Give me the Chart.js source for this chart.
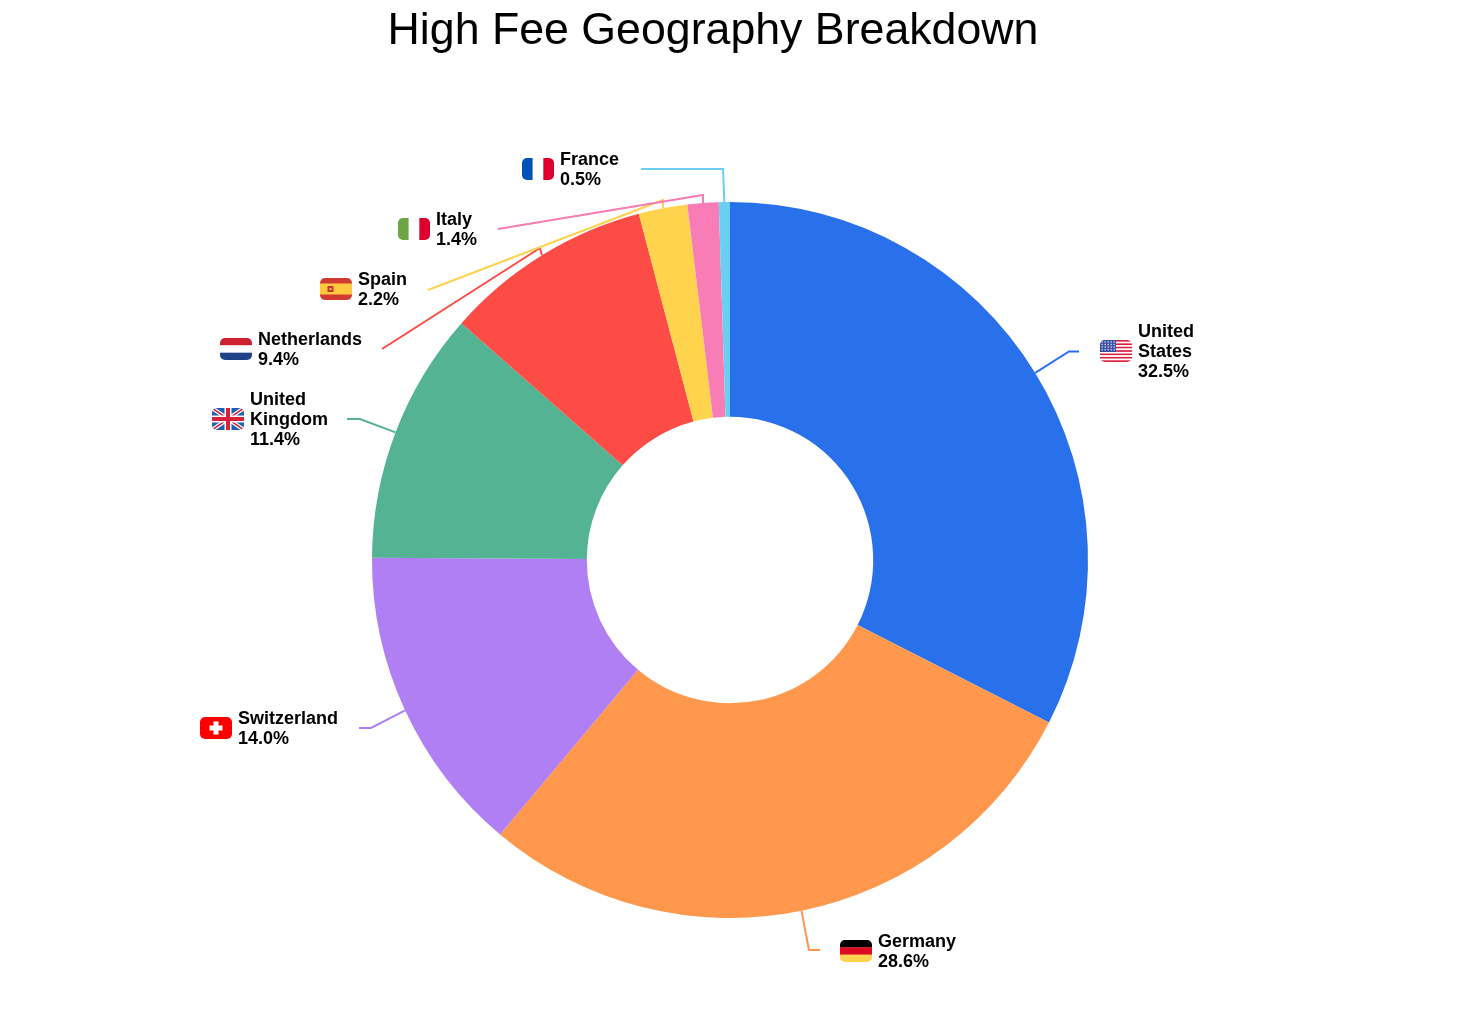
<!DOCTYPE html>
<html>
<head>
<meta charset="utf-8">
<title>High Fee Geography Breakdown</title>
<script src="https://cdn.jsdelivr.net/npm/chart.js@4/dist/chart.umd.min.js"></script>
<style>
  html, body { margin: 0; padding: 0; background: #fff; }
  canvas { display: block; }
</style>
</head>
<body>
<canvas id="fee-chart" width="1483" height="1026"></canvas>
<script>
const countries = ["United States", "Germany", "Switzerland", "United Kingdom", "Netherlands", "Spain", "Italy", "France"];
const shares = [32.5, 28.6, 14.0, 11.4, 9.4, 2.2, 1.4, 0.5];
const sliceColors = ["#2971EB", "#FF974D", "#B07FF3", "#53B392", "#FC4C45", "#FFD34E", "#F87CB6", "#6BCFF2"];

// Label wrapping per country, same order as above
const labelLines = [["United", "States"], ["Germany"], ["Switzerland"], ["United", "Kingdom"], ["Netherlands"], ["Spain"], ["Italy"], ["France"]];
// Flag box top-left corner per country
const flagX = [1100, 840, 200, 212, 220, 320, 398, 522];
const flagY = [340, 940, 717, 408, 338, 278, 218, 158];
// Leader line: elbow point, then end point
const elbows = [[1069, 351.5], [809, 950], [371, 728], [360, 419], [540, 248], [663, 200], [703, 195], [723, 169]];
const leaderEnds = [[1079, 351.5], [820, 950], [359, 728], [347, 419], [382, 349], [428, 290], [498, 229], [641, 169]];

const FLAG_W = 32;
const FLAG_H = 22;

function hStripes(ctx, x, y, colors) {
  const h = FLAG_H / colors.length;
  colors.forEach((c, i) => {
    ctx.fillStyle = c;
    ctx.fillRect(x, y + i * h, FLAG_W, h + 0.2);
  });
}

function vStripes(ctx, x, y, colors) {
  const w = FLAG_W / colors.length;
  colors.forEach((c, i) => {
    ctx.fillStyle = c;
    ctx.fillRect(x + i * w, y, w + 0.2, FLAG_H);
  });
}

const flagPainters = {
  "United States": (ctx, x, y) => {
    const stripes = [];
    for (let i = 0; i < 13; i++) stripes.push(i % 2 ? "#FFFFFF" : "#D8213B");
    hStripes(ctx, x, y, stripes);
    ctx.fillStyle = "#3A4FA3";
    ctx.fillRect(x, y, 16, 12);
    ctx.fillStyle = "#C9D2EE";
    for (let r = 0; r < 4; r++) {
      for (let c = 0; c < 5; c++) {
        ctx.fillRect(x + 1.5 + c * 3, y + 1.2 + r * 2.6, 1.4, 1.4);
      }
    }
  },
  "Germany": (ctx, x, y) => hStripes(ctx, x, y, ["#000000", "#DD0A21", "#FFD34E"]),
  "Switzerland": (ctx, x, y) => {
    ctx.fillStyle = "#FF0000";
    ctx.fillRect(x, y, FLAG_W, FLAG_H);
    ctx.fillStyle = "#FFFFFF";
    ctx.fillRect(x + 13.5, y + 4.5, 5, 13);
    ctx.fillRect(x + 9.5, y + 8.5, 13, 5);
  },
  "United Kingdom": (ctx, x, y) => {
    ctx.fillStyle = "#1F5FB4";
    ctx.fillRect(x, y, FLAG_W, FLAG_H);
    const diag = (w, color) => {
      ctx.strokeStyle = color;
      ctx.lineWidth = w;
      ctx.beginPath();
      ctx.moveTo(x, y);
      ctx.lineTo(x + FLAG_W, y + FLAG_H);
      ctx.moveTo(x + FLAG_W, y);
      ctx.lineTo(x, y + FLAG_H);
      ctx.stroke();
    };
    diag(4, "#FFFFFF");
    diag(1.5, "#D8213B");
    ctx.fillStyle = "#FFFFFF";
    ctx.fillRect(x + 12.5, y, 7, FLAG_H);
    ctx.fillRect(x, y + 7.5, FLAG_W, 7);
    ctx.fillStyle = "#D8213B";
    ctx.fillRect(x + 14, y, 4, FLAG_H);
    ctx.fillRect(x, y + 9, FLAG_W, 4);
  },
  "Netherlands": (ctx, x, y) => hStripes(ctx, x, y, ["#CD2230", "#FFFFFF", "#1F4288"]),
  "Spain": (ctx, x, y) => {
    ctx.fillStyle = "#D03A33";
    ctx.fillRect(x, y, FLAG_W, FLAG_H);
    ctx.fillStyle = "#FFC93F";
    ctx.fillRect(x, y + 5.5, FLAG_W, 11);
    ctx.fillStyle = "#C8372E";
    ctx.fillRect(x + 7.5, y + 8, 6, 6);
    ctx.fillStyle = "#FFC93F";
    ctx.fillRect(x + 9.5, y + 10, 2, 2);
  },
  "Italy": (ctx, x, y) => vStripes(ctx, x, y, ["#6DA544", "#FFFFFF", "#DD002E"]),
  "France": (ctx, x, y) => vStripes(ctx, x, y, ["#0052B4", "#FFFFFF", "#DD002E"]),
};

// Draws the title, leader lines, flags and labels on top of the doughnut
const calloutPlugin = {
  id: "callouts",
  afterDatasetsDraw(chart) {
    const ctx = chart.ctx;
    const arcs = chart.getDatasetMeta(0).data;

    ctx.save();
    ctx.fillStyle = "#000";
    ctx.font = '44.7px "Liberation Sans"';
    ctx.textAlign = "center";
    ctx.textBaseline = "middle";
    ctx.fillText("High Fee Geography Breakdown", 713, 31.5);

    arcs.forEach((arc, i) => {
      const { x, y, startAngle, endAngle, outerRadius } = arc.getProps(["x", "y", "startAngle", "endAngle", "outerRadius"], true);
      const mid = (startAngle + endAngle) / 2;

      // Leader line starts on the slice's outer edge
      ctx.strokeStyle = sliceColors[i];
      ctx.lineWidth = 2;
      ctx.lineJoin = "miter";
      ctx.beginPath();
      ctx.moveTo(x + Math.cos(mid) * outerRadius, y + Math.sin(mid) * outerRadius);
      ctx.lineTo(elbows[i][0], elbows[i][1]);
      ctx.lineTo(leaderEnds[i][0], leaderEnds[i][1]);
      ctx.stroke();

      // Flag
      const fx = flagX[i];
      const fy = flagY[i];
      ctx.save();
      ctx.beginPath();
      ctx.roundRect(fx, fy, FLAG_W, FLAG_H, 5);
      ctx.clip();
      flagPainters[countries[i]](ctx, fx, fy);
      ctx.restore();

      // Label text, centered on the flag
      const lines = labelLines[i].concat(`${shares[i].toFixed(1)}%`);
      const lineHeight = 20;
      const firstY = fy + FLAG_H / 2 - ((lines.length - 1) * lineHeight) / 2 + 1;
      ctx.fillStyle = "#000";
      ctx.font = 'bold 18px "Liberation Sans"';
      ctx.textAlign = "left";
      ctx.textBaseline = "middle";
      lines.forEach((line, n) => ctx.fillText(line, fx + FLAG_W + 6, firstY + n * lineHeight));
    });
    ctx.restore();
  },
};

new Chart(document.getElementById("fee-chart").getContext("2d"), {
  type: "doughnut",
  data: {
    labels: countries,
    datasets: [
      {
        data: shares,
        backgroundColor: sliceColors,
        borderWidth: 0,
      },
    ],
  },
  options: {
    responsive: false,
    animation: false,
    cutout: "40%",
    layout: { padding: { top: 202, bottom: 108, left: 372, right: 395 } },
    plugins: {
      legend: { display: false },
      title: { display: false },
      tooltip: { enabled: false },
    },
  },
  plugins: [calloutPlugin],
});
</script>
</body>
</html>
